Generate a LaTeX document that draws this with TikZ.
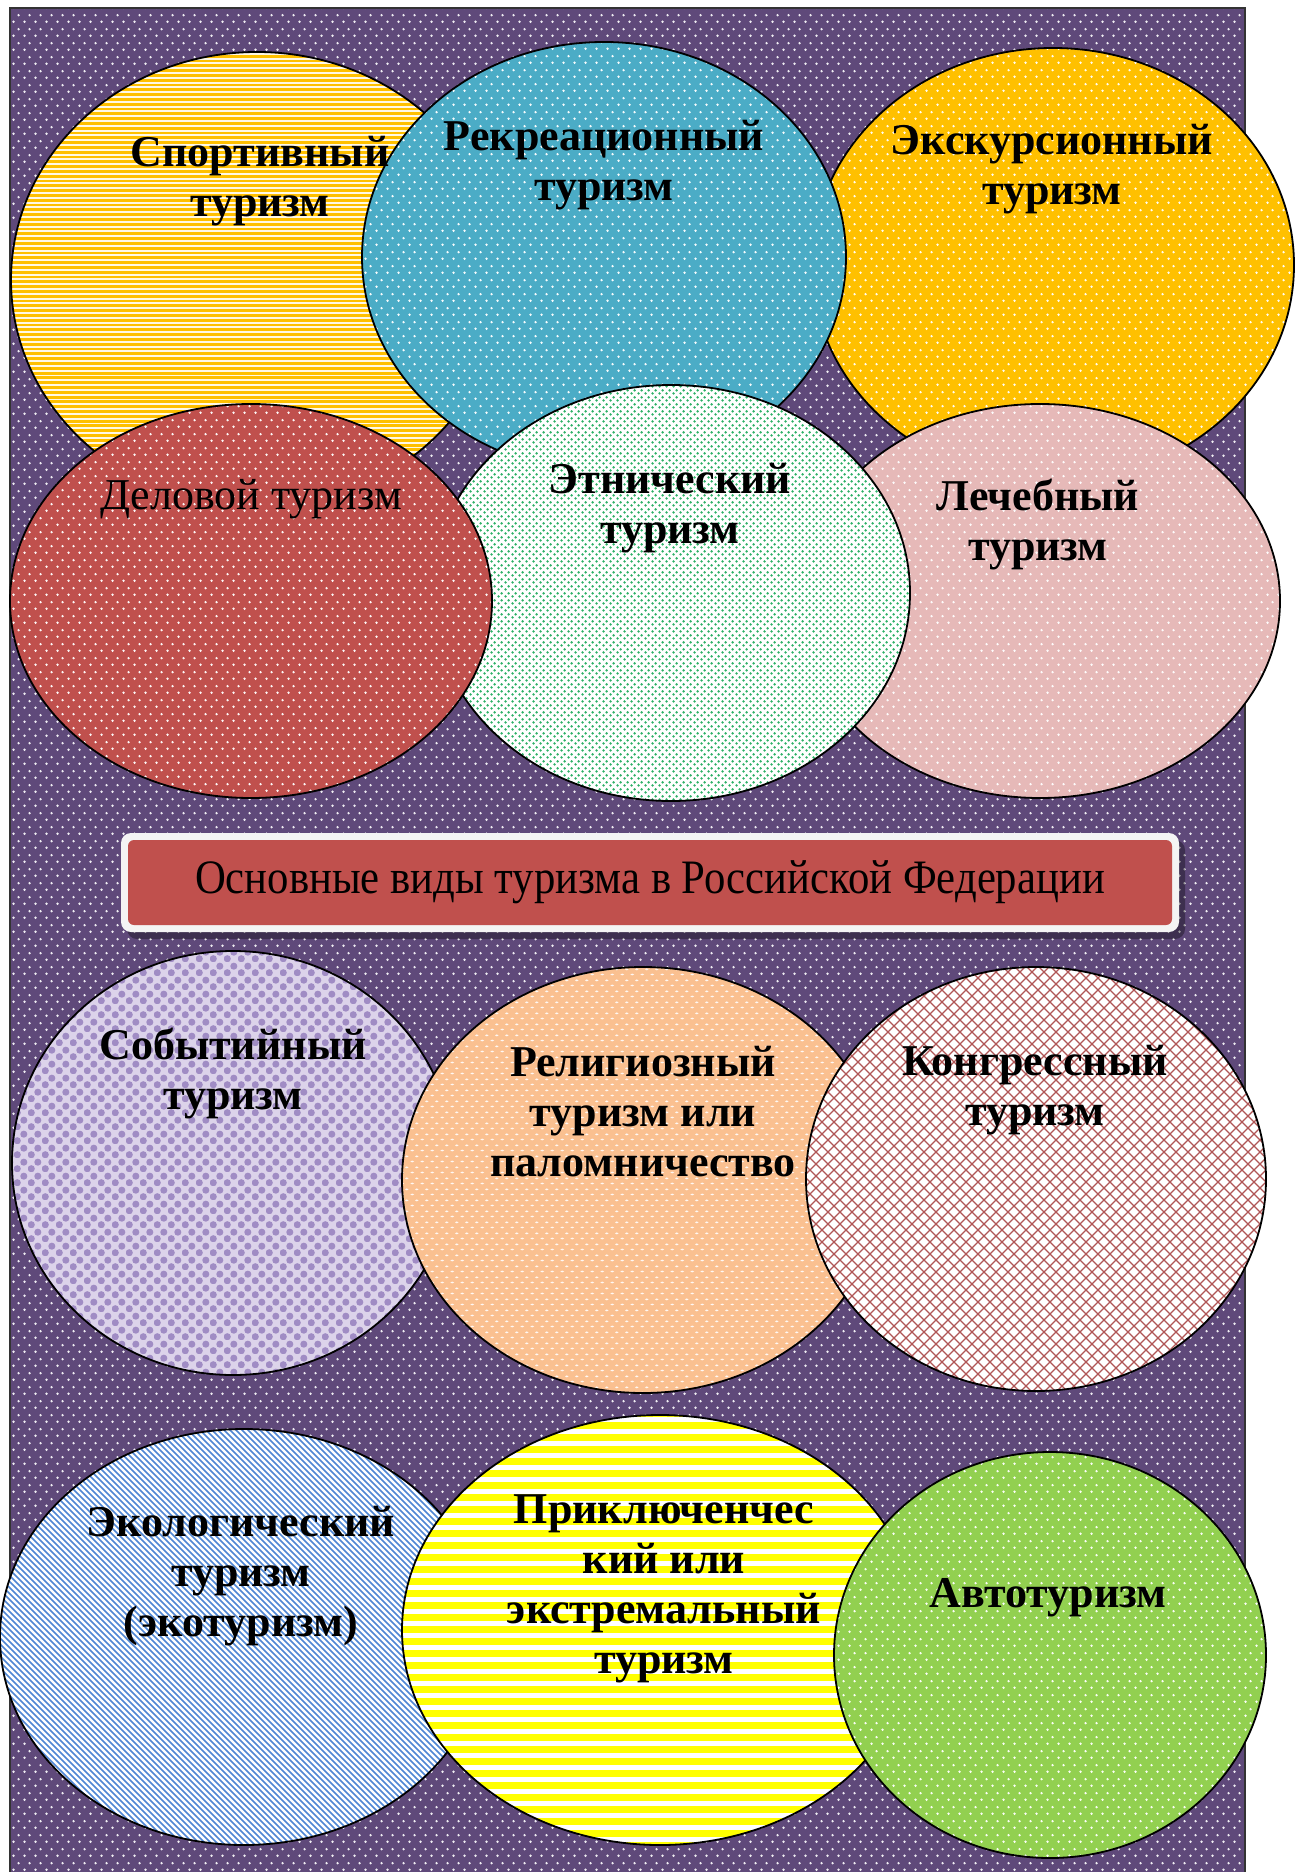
\documentclass[tikz,border=0pt]{standalone}
\usepackage{graphicx}
\usepackage{fontspec}
\setmainfont{Liberation Serif}
\usetikzlibrary{patterns,shapes.geometric}

\definecolor{bgpurple}{HTML}{5F497A}
\definecolor{tealc}{HTML}{4BACC6}
\definecolor{goldc}{HTML}{FFC000}
\definecolor{sportbase}{HTML}{FFF9E6}
\definecolor{redc}{HTML}{C0504D}
\definecolor{pinkc}{HTML}{E6B9B8}
\definecolor{greenc}{HTML}{92D050}
\definecolor{peachc}{HTML}{FAC090}
\definecolor{lavc}{HTML}{A08CC4}
\definecolor{lavbase}{HTML}{DCD3EA}
\definecolor{etnodot}{HTML}{2EB067}
\definecolor{xred}{HTML}{B05555}
\definecolor{ekoblue}{HTML}{4F86D4}
\definecolor{yelc}{HTML}{FFFF00}
\definecolor{framegray}{HTML}{F4F4F4}

\pgfdeclarepatternformonly{wdots}{\pgfqpoint{0pt}{0pt}}{\pgfqpoint{5.5pt}{7pt}}{\pgfqpoint{5.5pt}{7pt}}{%
  \pgfpathcircle{\pgfqpoint{1.375pt}{1.75pt}}{0.7pt}%
  \pgfpathcircle{\pgfqpoint{4.125pt}{5.25pt}}{0.7pt}%
  \pgfusepath{fill}}
\pgfdeclarepatternformonly{gdots}{\pgfqpoint{0pt}{0pt}}{\pgfqpoint{3.5pt}{3.5pt}}{\pgfqpoint{3.5pt}{3.5pt}}{%
  \pgfpathcircle{\pgfqpoint{0.875pt}{0.875pt}}{0.75pt}%
  \pgfpathcircle{\pgfqpoint{2.625pt}{2.625pt}}{0.75pt}%
  \pgfusepath{fill}}
\pgfdeclarepatternformonly{rdash}{\pgfqpoint{0pt}{0pt}}{\pgfqpoint{5pt}{5.3pt}}{\pgfqpoint{5pt}{5.3pt}}{%
  \pgfpathellipse{\pgfqpoint{1.25pt}{1.3pt}}{\pgfqpoint{1pt}{0pt}}{\pgfqpoint{0pt}{0.5pt}}%
  \pgfpathellipse{\pgfqpoint{3.75pt}{3.95pt}}{\pgfqpoint{1pt}{0pt}}{\pgfqpoint{0pt}{0.5pt}}%
  \pgfusepath{fill}}
\pgfdeclarepatternformonly{lavcirc}{\pgfqpoint{0pt}{0pt}}{\pgfqpoint{7pt}{7pt}}{\pgfqpoint{7pt}{7pt}}{%
  \pgfpathcircle{\pgfqpoint{1.75pt}{1.75pt}}{1.9pt}%
  \pgfpathcircle{\pgfqpoint{5.25pt}{5.25pt}}{1.9pt}%
  \pgfusepath{fill}}

\begin{document}
\begin{tikzpicture}[x=0.5pt,y=-0.5pt,
  blob/.style={ellipse, draw=black, line width=0.9pt, inner sep=0pt},
  dotted fill/.style={preaction={fill=#1}, pattern=wdots, pattern color=white!95!#1},
  lbl/.style={font=\bfseries\fontsize{22}{25}\selectfont, align=center, inner sep=0pt, text=black},
  lblreg/.style={font=\fontsize{22}{25}\selectfont, align=center, inner sep=0pt, text=black}]
\useasboundingbox (0,0) rectangle (1305,1872);
\fill[white] (0,0) rectangle (1305,1872);
% background panel
\path[fill=bgpurple, postaction={pattern=wdots, pattern color=white!90!bgpurple}] (10,8) rectangle (1245,1872);
\draw[line width=0.6pt, black!80] (10,1872) -- (10,8) -- (1245,8) -- (1245,1872);

% ---- top group
% sport (horizontal thin stripes)
\fill[sportbase] (257,280) ellipse [x radius=123pt, y radius=114pt];
\begin{scope}
  \clip (257,280) ellipse [x radius=123pt, y radius=114pt];
  \foreach \yy in {50,54.8,...,512} \fill[goldc] (0,\yy) rectangle (520,\yy+2.9);
\end{scope}
\node[blob, minimum width=246pt, minimum height=228pt] (sport) at (257,280) {};

\node[blob, minimum width=241pt, minimum height=217pt, dotted fill=goldc] (exc) at (1053,265) {};
\node[blob, minimum width=242pt, minimum height=215pt, dotted fill=tealc] (rekr) at (604,257) {};
\node[blob, minimum width=240pt, minimum height=197pt, dotted fill=pinkc] (lech) at (1040,601) {};
\node[blob, minimum width=239pt, minimum height=208pt, preaction={fill=white}, pattern=gdots, pattern color=etnodot] (etno) at (671,593) {};
\node[blob, minimum width=241pt, minimum height=197pt, dotted fill=redc] (delo) at (251,601) {};

% ---- title
\path[fill=black, opacity=0.35, rounded corners=5pt] (127,840) rectangle (1185,939);
\path[fill=framegray, rounded corners=5pt] (121,833) rectangle (1179,932);
\node[fill=redc, rounded corners=3pt, minimum width=522pt, minimum height=42.5pt, inner sep=0pt,
  font=\fontsize{24}{28}\selectfont] (title) at (650,882.5) {\scalebox{0.89}[1]{Основные виды туризма в Российской Федерации}};

% ---- middle group
\node[blob, minimum width=221pt, minimum height=212pt, preaction={fill=lavbase}, pattern=lavcirc, pattern color=lavc] (sobyt) at (233,1163) {};
\node[blob, minimum width=241pt, minimum height=213pt, preaction={fill=peachc}, pattern=rdash, pattern color=white!88!peachc] (relig) at (643,1180) {};
% kongr (diagonal crosshatch)
\fill[white] (1036,1179) ellipse [x radius=115pt, y radius=106pt];
\begin{scope}
  \clip (1036,1179) ellipse [x radius=115pt, y radius=106pt];
  \foreach \k in {-588,-576,...,300} \draw[xred, line width=0.6pt] (\k+950,950) -- (\k+1410,1410);
  \foreach \k in {1764,1776,...,2664} \draw[xred, line width=0.6pt] (\k-950,950) -- (\k-1410,1410);
\end{scope}
\node[blob, minimum width=230pt, minimum height=212pt] (kongr) at (1036,1179) {};

% ---- bottom group
% eko (diagonal stripes)
\fill[white] (244,1637) ellipse [x radius=122pt, y radius=104pt];
\begin{scope}
  \clip (244,1637) ellipse [x radius=122pt, y radius=104pt];
  \foreach \k in {-1854,-1848,...,-930} \draw[ekoblue, line width=0.85pt] (\k+1420,1420) -- (\k+1860,1860);
\end{scope}
\node[blob, minimum width=244pt, minimum height=208pt] (eko) at (244,1637) {};
% prikl (wide horizontal stripes)
\fill[white] (660,1630) ellipse [x radius=129pt, y radius=107.5pt];
\begin{scope}
  \clip (660,1630) ellipse [x radius=129pt, y radius=107.5pt];
  \foreach \yy in {1410,1422,...,1850} \fill[yelc] (395,\yy) rectangle (925,\yy+7);
\end{scope}
\node[blob, minimum width=258pt, minimum height=215pt] (prikl) at (660,1630) {};
\node[blob, minimum width=216pt, minimum height=203pt, dotted fill=greenc] (avto) at (1050,1655) {};

% ---- labels
\node[lbl] (tsport) at (260,181) {Спортивный\\туризм};
\node[lbl] (trekr) at (604,165) {Рекреационный\\туризм};
\node[lbl] (texc) at (1052,169) {Экскурсионный\\туризм};
\node[lblreg] (tdelo) at (251,499) {Деловой туризм};
\node[lbl] (tetno) at (670,508) {Этнический\\туризм};
\node[lbl] (tlech) at (1038,524) {Лечебный\\туризм};
\node[lbl] (tsobyt) at (233,1073) {Событийный\\туризм};
\node[lbl] (trelig) at (643,1112) {Религиозный\\туризм или\\паломничество};
\node[lbl] (tkongr) at (1035,1090) {Конгрессный\\туризм};
\node[lbl] (teko) at (241,1576) {Экологический\\туризм\\(экотуризм)};
\node[lbl] (tprikl) at (664,1589) {Приключенчес\\кий или\\экстремальный\\туризм};
\node[lbl] (tavto) at (1048,1598) {Автотуризм};
\end{tikzpicture}
\end{document}
